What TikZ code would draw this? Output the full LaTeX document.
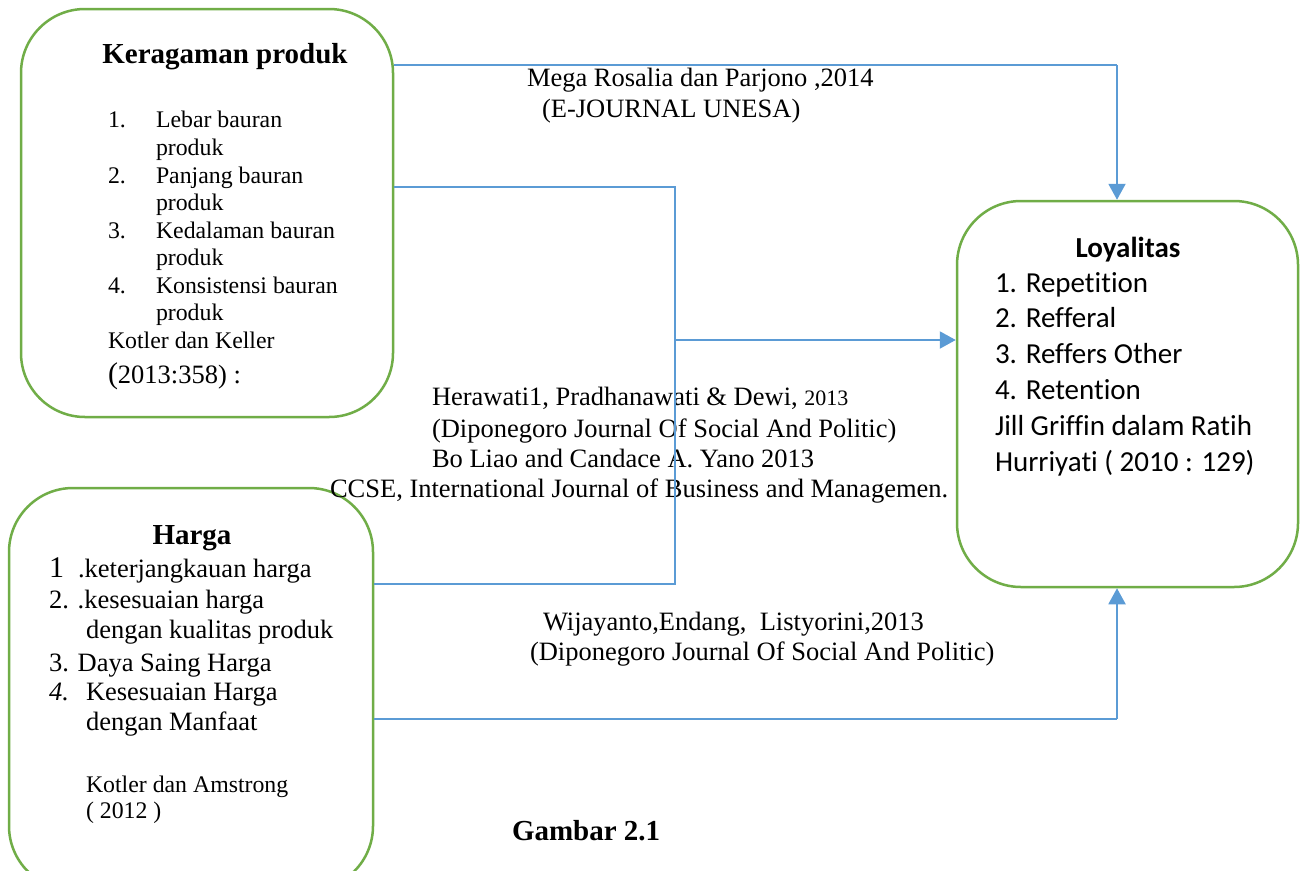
\documentclass[tikz,border=0pt]{standalone}
\usepackage{fontspec}
\setmainfont{Liberation Serif}
\newfontfamily\calfam[Ligatures=NoCommon]{Carlito}
\usetikzlibrary{arrows.meta}
\definecolor{boxgreen}{HTML}{70AD47}
\definecolor{linkblue}{HTML}{5B9BD5}
\newcommand\fzA{\fontsize{26.5}{30}\selectfont}
\newcommand\fzB{\fontsize{23.8}{28}\selectfont}
\newcommand\fzT{\fontsize{29}{33}\selectfont\bfseries}
\newcommand\fzC{\calfam\fontsize{29}{36}\selectfont}
\begin{document}
\begin{tikzpicture}[x=1pt,y=-1pt,
  box/.style={draw=boxgreen, line width=2.5pt, rounded corners=64pt, inner sep=0pt},
  link/.style={draw=linkblue, line width=1.5pt},
  arr/.style={draw=linkblue, line width=2pt, -{Triangle[length=16pt,width=17pt]}},
  txt/.style={anchor=base west, inner sep=0pt, outer sep=0pt},
  ttl/.style={anchor=base, inner sep=0pt, outer sep=0pt, font=\fzT}]
\useasboundingbox (0,0) rectangle (1300,870);
\clip (0,0) rectangle (1300,870);
\fill[white] (0,0) rectangle (1300,870);

% boxes
\node[box, minimum width=372pt, minimum height=408pt] (kp) at (207,213) {};
\node[box, minimum width=364pt, minimum height=402pt] (hg) at (191,689) {};
\node[box, minimum width=341pt, minimum height=386pt] (loy) at (1127.5,394) {};

% Keragaman produk
\node[ttl] (kpt) at (225,63) {Keragaman produk};
\begin{scope}[every node/.style={txt, font=\fzB}]
\node (k1n) at (108,127) {1.};
\node (k1) at (156,127) {Lebar bauran};
\node (k1b) at (156,155) {produk};
\node (k2n) at (108,183) {2.};
\node (k2) at (156,183) {Panjang bauran};
\node (k2b) at (156,210) {produk};
\node (k3n) at (108,238) {3.};
\node (k3) at (156,238) {Kedalaman bauran};
\node (k3b) at (156,265) {produk};
\node (k4n) at (108,293) {4.};
\node (k4) at (156,293) {Konsistensi bauran};
\node (k4b) at (156,320) {produk};
\node (kref) at (108,348) {Kotler dan Keller};
\end{scope}
\node[txt, font=\fzA] (kyr) at (108,383) {{\fontsize{30}{30}\selectfont(}2013:358) :};

% Harga
\node[ttl] (hgt) at (192,544) {Harga};
\begin{scope}[every node/.style={txt, font=\fzA}]
\node (h1n) at (49,577) {{\fontsize{30}{30}\selectfont 1}};
\node (h1) at (78,577) {.keterjangkauan harga};
\node (h2) at (49,608) {2. .kesesuaian harga};
\node (h2b) at (86,638) {dengan kualitas produk};
\node (h3) at (49,671) {3. Daya Saing Harga};
\node (h4n) at (49,700) {\itshape 4.};
\node (h4) at (86,700) {Kesesuaian Harga};
\node (h4b) at (86,730) {dengan Manfaat};
\end{scope}
\node[txt, font=\fzB] (href) at (86,792) {Kotler dan Amstrong};
\node[txt, font=\fzB] (hyr) at (86,818) {( 2012 )};

% Loyalitas
\node[anchor=base, inner sep=0pt, font=\fzC\bfseries] (loyt) at (1128,257) {Loyalitas};
\begin{scope}[every node/.style={txt, font=\fzC}]
\node (l1) at (995,292) {1. Repetition};
\node (l2) at (995,327.5) {2. Refferal};
\node (l3) at (995,363) {3. Reffers Other};
\node (l4) at (995,399) {4. Retention};
\node (l5) at (995,435) {Jill Griffin dalam Ratih};
\node (l6) at (995,471) {Hurriyati ( 2010 : 129)};
\end{scope}

% middle labels
\begin{scope}[every node/.style={txt, font=\fzA}]
\node (m1) at (527,86) {Mega Rosalia dan Parjono ,2014};
\node (m2) at (542,117) {(E-JOURNAL UNESA)};
\node (r1) at (432,405) {Herawati1, Pradhanawati \& Dewi, {\fontsize{22}{26}\selectfont 2013}};
\node (r2) at (432,437) {(Diponegoro Journal Of Social And Politic)};
\node (r3) at (432,467) {Bo Liao and Candace A. Yano 2013};
\node (r4) at (330,497) {CCSE, International Journal of Business and Managemen.};
\node (w1) at (543,630) {Wijayanto,Endang,\ \ Listyorini,2013};
\node (w2) at (530,660) {(Diponegoro Journal Of Social And Politic)};
\end{scope}
\node[txt, font=\fzT] (cap) at (512,840) {Gambar 2.1};

% connectors
\coordinate (c1) at (1117,65);
\coordinate (c2) at (675,187);
\coordinate (c3) at (675,584);
\coordinate (c4) at (675,340);
\coordinate (c5) at (1117,719);
\draw[link] (kp.east |- c1) -- (c1);
\draw[arr] (c1) -- (c1 |- loy.north);
\draw[link] (kp.east |- c2) -- (c2) -- (c3) -- (hg.east |- c3);
\draw[arr] (c4) -- (loy.west |- c4);
\draw[link] (hg.east |- c5) -- (c5);
\draw[arr] (c5) -- (c5 |- loy.south);
\end{tikzpicture}
\end{document}
